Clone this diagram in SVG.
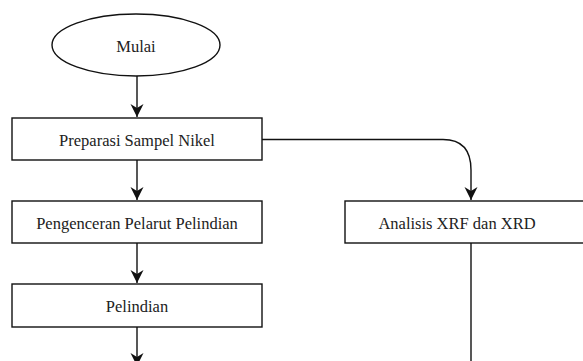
<svg xmlns="http://www.w3.org/2000/svg" width="583" height="361" viewBox="0 0 583 361">
<style>
.n{fill:#fff;stroke:#111;stroke-width:1.4}
.t{font-family:"Liberation Serif","Times New Roman",serif;font-size:16.5px;fill:#222;text-anchor:middle;dominant-baseline:central}
.c{fill:none;stroke:#111;stroke-width:1.4}
</style>
<defs>
<marker id="a" markerUnits="userSpaceOnUse" markerWidth="14" markerHeight="14" viewBox="0 0 14 14" refX="13" refY="7" orient="auto">
<path d="M0,0.5 L13,7 L0,13.5 L4,7 Z" fill="#111"/>
</marker>
</defs>
<rect width="583" height="361" fill="#fff"/>
<g id="connectors">
<path class="c" d="M137,76 V117" marker-end="url(#a)"/>
<path class="c" d="M137,160 V200" marker-end="url(#a)"/>
<path class="c" d="M137,243 V283" marker-end="url(#a)"/>
<path class="c" d="M137,327 V366" marker-end="url(#a)"/>
<path class="c" d="M262,139.5 H443 Q471,139.5 471,170 V200" marker-end="url(#a)"/>
<path class="c" d="M471,243 V361"/>
</g>
<g id="mulai">
<ellipse class="n" cx="136" cy="45" rx="84" ry="31"/>
<text class="t" x="136" y="46">Mulai</text>
</g>
<g id="preparasi">
<rect class="n" x="12" y="118" width="250" height="42"/>
<text class="t" x="137" y="140">Preparasi Sampel Nikel</text>
</g>
<g id="pengenceran">
<rect class="n" x="12" y="201" width="250" height="42"/>
<text class="t" x="137" y="223">Pengenceran Pelarut Pelindian</text>
</g>
<g id="pelindian">
<rect class="n" x="12" y="284" width="250" height="43"/>
<text class="t" x="137" y="306">Pelindian</text>
</g>
<g id="analisis">
<rect class="n" x="345" y="201" width="245" height="42"/>
<text class="t" x="457" y="223">Analisis XRF dan XRD</text>
</g>
</svg>
